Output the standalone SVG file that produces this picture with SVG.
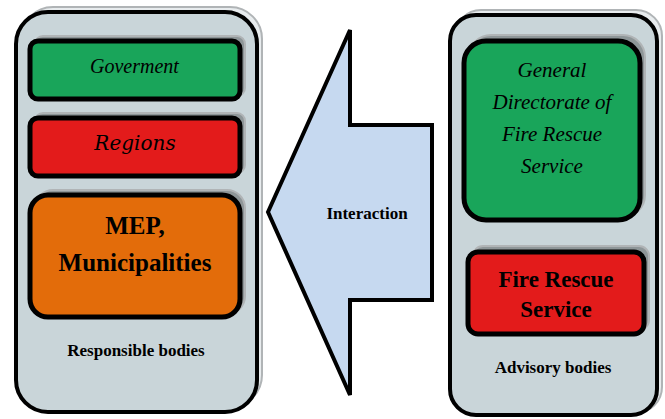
<svg xmlns="http://www.w3.org/2000/svg" width="665" height="419" viewBox="0 0 665 419">
<rect width="665" height="419" fill="#fff"/>
<g id="responsible">
<rect x="21" y="7" width="241" height="400" rx="32" fill="#e8ecee" stroke="#b0b4b6" stroke-width="2"/>
<rect x="16" y="12" width="241" height="400" rx="32" fill="#c9d5d9" stroke="#000" stroke-width="4"/>
<text x="136" y="356" text-anchor="middle" font-family="serif" font-weight="bold" font-size="17">Responsible bodies</text>
</g>
<g id="goverment">
<rect x="35" y="36" width="210" height="60" rx="8" fill="#8e9698" stroke="#b0b4b6" stroke-width="2"/>
<rect x="30" y="41" width="210" height="58" rx="8" fill="#19a55a" stroke="#000" stroke-width="5"/>
<text x="90" y="73" font-family="Liberation Serif" font-style="italic" font-size="20">Goverment</text>
</g>
<g id="regions">
<rect x="35" y="113" width="210" height="60" rx="8" fill="#8e9698" stroke="#b0b4b6" stroke-width="2"/>
<rect x="30" y="118" width="210" height="58" rx="8" fill="#e31b1b" stroke="#000" stroke-width="5"/>
<text x="135" y="150" text-anchor="middle" font-family="DejaVu Serif" font-style="italic" font-size="20">Regions</text>
</g>
<g id="mep">
<rect x="35" y="190" width="210" height="124" rx="18" fill="#8e9698" stroke="#b0b4b6" stroke-width="2"/>
<rect x="30" y="195" width="210" height="122" rx="18" fill="#e36c0a" stroke="#000" stroke-width="5"/>
<text x="135" y="234" text-anchor="middle" font-family="Times New Roman" font-weight="bold" font-size="25">MEP,</text>
<text x="135" y="271" text-anchor="middle" font-family="Liberation Serif, serif" font-weight="bold" font-size="25">Municipalities</text>
</g>
<g id="connectors">
<g id="interaction">
<polygon points="268,212 350,30 350,125 432,125 432,300 350,300 350,395" fill="#c6d9f0" stroke="#000" stroke-width="4"/>
<text x="367" y="219" text-anchor="middle" font-family="Liberation Serif" font-weight="bold" font-size="17">Interaction</text>
</g>
</g>
<g id="advisory">
<rect x="455" y="10" width="207" height="403" rx="26" fill="#e8ecee" stroke="#b0b4b6" stroke-width="2"/>
<rect x="450" y="15" width="207" height="400" rx="26" fill="#c9d5d9" stroke="#000" stroke-width="4"/>
<text x="553" y="373" text-anchor="middle" font-family="Liberation Serif" font-weight="bold" font-size="17">Advisory bodies</text>
</g>
<g id="gdfrs">
<rect x="469" y="35" width="176" height="182" rx="22" fill="#8e9698" stroke="#b0b4b6" stroke-width="2"/>
<rect x="464" y="41" width="176" height="179" rx="22" fill="#19a55a" stroke="#000" stroke-width="5"/>
<text x="552" y="77" text-anchor="middle" font-family="Liberation Serif" font-style="italic" font-size="21">General</text>
<text x="552" y="109" text-anchor="middle" font-family="Liberation Serif" font-style="italic" font-size="21">Directorate of</text>
<text x="552" y="141" text-anchor="middle" font-family="Liberation Serif" font-style="italic" font-size="21">Fire Rescue</text>
<text x="552" y="173" text-anchor="middle" font-family="Liberation Serif" font-style="italic" font-size="21">Service</text>
</g>
<g id="frs">
<rect x="473" y="246" width="176" height="84" rx="10" fill="#8e9698" stroke="#b0b4b6" stroke-width="2"/>
<rect x="468" y="252" width="176" height="82" rx="10" fill="#e31b1b" stroke="#000" stroke-width="5"/>
<text x="556" y="287" text-anchor="middle" font-family="Liberation Serif" font-weight="bold" font-size="23">Fire Rescue</text>
<text x="556" y="317" text-anchor="middle" font-family="Liberation Serif" font-weight="bold" font-size="23">Service</text>
</g>
</svg>
